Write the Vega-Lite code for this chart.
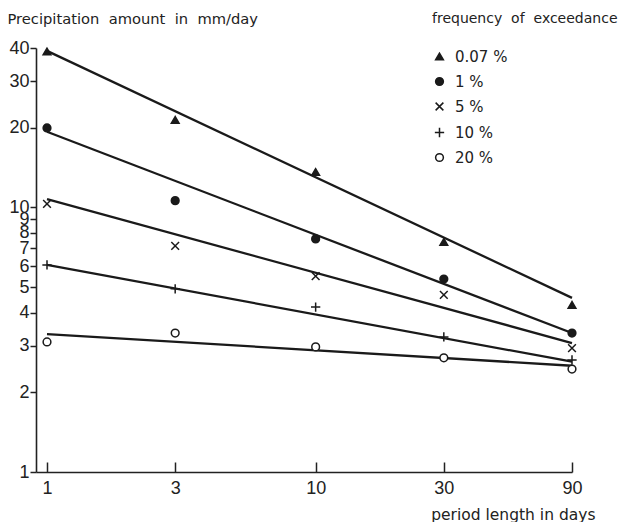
{
  "$schema": "https://vega.github.io/schema/vega-lite/v6.json",
  "width": 536,
  "height": 424,
  "autosize": {"type": "none"},
  "padding": {"left": 36, "top": 48, "right": 56, "bottom": 50},
  "background": "white",
  "config": {
    "view": {"stroke": null},
    "axis": {"grid": false, "domainColor": "#222", "tickColor": "#222", "domainWidth": 1.6, "tickWidth": 1.5, "labelColor": "#222", "titleColor": "#222", "labelFont": "Liberation Sans", "labelFontSize": 18, "titleFont": "DejaVu Sans", "titleFontWeight": "normal", "titleFontSize": 14.7, "titleLimit": 400},
    "legend": {"titleFont": "DejaVu Sans", "titleFontSize": 14, "titleFontWeight": "normal", "titleColor": "#222", "titlePadding": 23, "titleLimit": 400, "labelFont": "DejaVu Sans", "labelFontSize": 15, "labelColor": "#222", "rowPadding": 9, "symbolStrokeColor": "#1a1a1a", "symbolStrokeWidth": 1.5, "symbolSize": 60, "labelOffset": 8}
  },
  "datasets": {
    "pts": [
      {"period": 1, "value": 38.8, "freq": "0.07 %"},
      {"period": 3, "value": 21.4, "freq": "0.07 %"},
      {"period": 10, "value": 13.6, "freq": "0.07 %"},
      {"period": 30, "value": 7.4, "freq": "0.07 %"},
      {"period": 90, "value": 4.28, "freq": "0.07 %"},
      {"period": 1, "value": 19.95, "freq": "1  %"},
      {"period": 3, "value": 10.6, "freq": "1  %"},
      {"period": 10, "value": 7.6, "freq": "1  %"},
      {"period": 30, "value": 5.36, "freq": "1  %"},
      {"period": 90, "value": 3.35, "freq": "1  %"},
      {"period": 1, "value": 10.3, "freq": "5  %"},
      {"period": 3, "value": 7.15, "freq": "5  %"},
      {"period": 10, "value": 5.5, "freq": "5  %"},
      {"period": 30, "value": 4.67, "freq": "5  %"},
      {"period": 90, "value": 2.94, "freq": "5  %"},
      {"period": 1, "value": 6.06, "freq": "10 %"},
      {"period": 3, "value": 4.92, "freq": "10 %"},
      {"period": 10, "value": 4.2, "freq": "10 %"},
      {"period": 30, "value": 3.24, "freq": "10 %"},
      {"period": 90, "value": 2.65, "freq": "10 %"},
      {"period": 1, "value": 3.1, "freq": "20 %"},
      {"period": 3, "value": 3.35, "freq": "20 %"},
      {"period": 10, "value": 2.97, "freq": "20 %"},
      {"period": 30, "value": 2.7, "freq": "20 %"},
      {"period": 90, "value": 2.45, "freq": "20 %"}
    ],
    "fits": [
      {"period": 1, "value": 39, "freq": "0.07 %"},
      {"period": 90, "value": 4.55, "freq": "0.07 %"},
      {"period": 1, "value": 19.3, "freq": "1  %"},
      {"period": 90, "value": 3.35, "freq": "1  %"},
      {"period": 1, "value": 10.75, "freq": "5  %"},
      {"period": 90, "value": 3.07, "freq": "5  %"},
      {"period": 1, "value": 6.06, "freq": "10 %"},
      {"period": 90, "value": 2.61, "freq": "10 %"},
      {"period": 1, "value": 3.32, "freq": "20 %"},
      {"period": 90, "value": 2.52, "freq": "20 %"}
    ]
  },
  "layer": [
    {
      "data": {"name": "fits"},
      "mark": {"type": "line", "color": "#1a1a1a", "strokeWidth": 2.3},
      "encoding": {
        "x": {"field": "period", "type": "quantitative", "scale": {"type": "log", "domain": [0.91, 90], "nice": false},
          "axis": {"values": [1, 3, 10, 30, 90], "tickSize": -10, "labelPadding": 17, "labelFlush": false, "labelOverlap": false,
            "title": "period length in days", "titleFontSize": 15.5, "titleAnchor": null, "titleX": 559, "titleY": 47, "titleAlign": "right", "titleBaseline": "alphabetic"}},
        "y": {"field": "value", "type": "quantitative", "scale": {"type": "log", "domain": [1, 40], "nice": false},
          "axis": {"values": [1, 2, 3, 4, 5, 6, 7, 8, 9, 10, 20, 30, 40], "tickSize": 6, "labelPadding": 1, "labelOverlap": false, "labelBound": false, "labelFlush": false,
            "title": "Precipitation\u00a0\u00a0amount\u00a0\u00a0in\u00a0\u00a0mm/day", "titleAngle": 0, "titleX": -29, "titleY": -25, "titleAlign": "left", "titleBaseline": "alphabetic"}},
        "detail": {"field": "freq"}
      }
    },
    {
      "data": {"name": "pts"},
      "mark": {"type": "point", "filled": false, "strokeWidth": 1.5, "opacity": 1, "size": 60},
      "encoding": {
        "x": {"field": "period", "type": "quantitative"},
        "y": {"field": "value", "type": "quantitative"},
        "shape": {"field": "freq", "type": "nominal",
          "scale": {"domain": ["0.07 %", "1  %", "5  %", "10 %", "20 %"], "range": ["triangle-up", "circle", "M-1,-1L1,1M-1,1L1,-1", "M-1.2,0L1.2,0M0,-1.2L0,1.2", "circle"]},
          "legend": {"title": "frequency\u00a0\u00a0of\u00a0\u00a0exceedance", "orient": "none", "legendX": 396, "legendY": -36,
            "encode": {"symbols": {"update": {"stroke": {"value": "#1a1a1a"}, "strokeWidth": {"value": 1.5}}}}}},
        "fill": {"field": "freq", "type": "nominal",
          "scale": {"domain": ["0.07 %", "1  %", "5  %", "10 %", "20 %"], "range": ["#1a1a1a", "#1a1a1a", "transparent", "transparent", "white"]},
          "legend": {"title": "frequency\u00a0\u00a0of\u00a0\u00a0exceedance", "orient": "none", "legendX": 396, "legendY": -36,
            "encode": {"symbols": {"update": {"stroke": {"value": "#1a1a1a"}, "strokeWidth": {"value": 1.5}}}}}},
        "stroke": {"field": "freq", "type": "nominal",
          "scale": {"domain": ["0.07 %", "1  %", "5  %", "10 %", "20 %"], "range": ["#1a1a1a", "#1a1a1a", "#1a1a1a", "#1a1a1a", "#1a1a1a"]},
          "legend": {"title": "frequency\u00a0\u00a0of\u00a0\u00a0exceedance", "orient": "none", "legendX": 396, "legendY": -36,
            "encode": {"symbols": {"update": {"stroke": {"value": "#1a1a1a"}, "strokeWidth": {"value": 1.5}}}}}}
      }
    }
  ]
}
